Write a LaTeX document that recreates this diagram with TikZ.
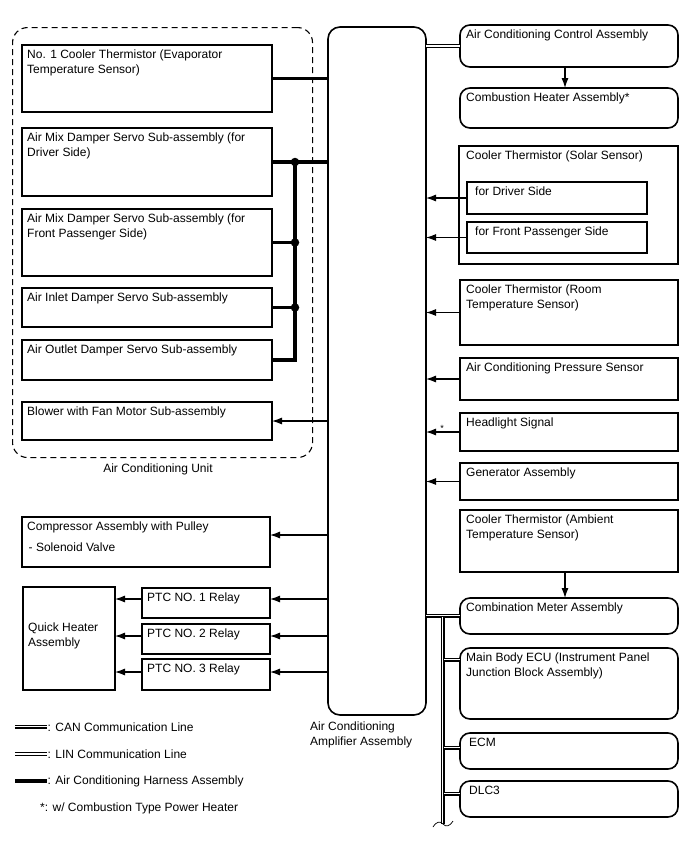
\documentclass[tikz,border=0pt]{standalone}
\usepackage{fontspec}
\setmainfont{Liberation Sans}
\usetikzlibrary{arrows.meta,calc}
\newcommand\bx[8]{%
  \node[#1, minimum width={#5-#3}, minimum height={#6-#4}] (#2) at (#3,#4) {};
  \node[txt] (#2t) at (#3+#8,#4+4.5) {#7};}
\begin{document}
\begin{tikzpicture}[x=1pt,y=-1pt,
  box/.style={draw, line width=1.6pt, anchor=north west, inner sep=0pt, outer sep=0pt},
  rbox/.style={box, rounded corners=10pt},
  txt/.style={anchor=north west, inner sep=0pt, align=left, font=\fontsize{12}{15}\selectfont},
  lbl/.style={inner sep=0pt, align=left, font=\fontsize{12}{15}\selectfont},
  arr/.style={line width=1.1pt, -{Latex[length=10pt,width=7pt]}},
  harn/.style={line width=3.8pt, line join=miter},
  dot/.style={circle, fill, inner sep=0pt, minimum size=8.5pt},
  can/.style={draw=black, line width=4pt, postaction={draw=white, line width=2.6pt}, postaction={draw=black, line width=0.6pt}},
  lin/.style={draw=black, line width=3.6pt, postaction={draw=white, line width=2.2pt}}]
\useasboundingbox (0,0) rectangle (688,852);

% Air conditioning unit (dashed)
\node[draw, line width=1.1pt, dash pattern=on 6pt off 4pt, rounded corners=15pt, anchor=north west,
      minimum width=300, minimum height=430, inner sep=0pt] (acu) at (12,27) {};
\node[lbl] (acul) at (158,469) {Air Conditioning Unit};

% Amplifier
\node[box, rounded corners=12pt, minimum width=98, minimum height=688] (amp) at (328,27) {};
\node[lbl, anchor=north west] (ampl) at (310,722) {Air Conditioning\\Amplifier Assembly};

% Left boxes
\bx{box}{cth}{22}{45}{272}{112}{No. 1 Cooler Thermistor (Evaporator\\Temperature Sensor)}{5}
\bx{box}{amd}{22}{128}{272}{196}{Air Mix Damper Servo Sub-assembly (for\\Driver Side)}{5}
\bx{box}{amf}{22}{209}{272}{276}{Air Mix Damper Servo Sub-assembly (for\\Front Passenger Side)}{5}
\bx{box}{ain}{22}{288}{272}{327}{Air Inlet Damper Servo Sub-assembly}{5}
\bx{box}{aout}{22}{340}{272}{380}{Air Outlet Damper Servo Sub-assembly}{5}
\bx{box}{blw}{22}{402}{272}{440}{Blower with Fan Motor Sub-assembly}{5}

% harness
\coordinate (hb) at (295,0);
\draw[harn] (cth.east) -- (cth.east -| amp.west);
\draw[harn] (amd.east) -- (amd.east -| amp.west);
\node[dot] (d1) at (hb |- amd.east) {};
\node[dot] (d2) at (hb |- amf.east) {};
\node[dot] (d3) at (hb |- ain.east) {};
\draw[harn] (aout.east) -| (d1.center);
\draw[harn] (amf.east) -- (d2.center);
\draw[harn] (ain.east) -- (d3.center);

\draw[arr] (amp.west |- blw.east) -- (blw.east);

% Compressor
\bx{box}{cmp}{22}{517}{270}{567}{Compressor Assembly with Pulley\\[6pt]\hspace{1.5pt}- Solenoid Valve}{5}
\draw[arr] (amp.west |- 0,535) -- (cmp.east |- 0,535);

% Quick heater + PTC relays
\node[box, minimum width=92, minimum height=103] (qh) at (23,587) {};
\node[txt] (qht) at (28,623) {Quick Heater\\Assembly};
\bx{box}{p1}{142}{588}{270}{618}{PTC NO. 1 Relay}{5}
\bx{box}{p2}{142}{624}{270}{654}{PTC NO. 2 Relay}{5}
\bx{box}{p3}{142}{659}{270}{690}{PTC NO. 3 Relay}{5}
\draw[arr] (amp.west |- 0,599) -- (p1.east |- 0,599);
\draw[arr] (amp.west |- 0,636) -- (p2.east |- 0,636);
\draw[arr] (amp.west |- 0,672) -- (p3.east |- 0,672);
\draw[arr] (p1.west |- 0,599) -- (qh.east |- 0,599);
\draw[arr] (p2.west |- 0,636) -- (qh.east |- 0,636);
\draw[arr] (p3.west |- 0,672) -- (qh.east |- 0,672);

% Right side
\coordinate (vx) at (565,0);
\bx{rbox}{acc}{460}{25}{678}{67}{Air Conditioning Control Assembly}{6}
\bx{rbox}{chh}{460}{88}{678}{128}{Combustion Heater Assembly*}{6}
\draw[lin] (amp.east |- 0,46) -- (acc.west |- 0,46);
\draw[arr] (acc.south -| vx) -- (chh.north -| vx);

\bx{box}{sol}{459}{146}{678}{264}{Cooler Thermistor (Solar Sensor)}{7}
\bx{box}{sd}{467}{182}{647}{214}{for Driver Side}{8}
\bx{box}{sp}{467}{222}{647}{253}{for Front Passenger Side}{8}
\draw[arr] (sd.west) -- (sd.west -| amp.east);
\draw[arr] (sp.west) -- (sp.west -| amp.east);

\bx{box}{room}{460}{280}{678}{345}{Cooler Thermistor (Room\\Temperature Sensor)}{6}
\bx{box}{prs}{460}{358}{678}{400}{Air Conditioning Pressure Sensor}{6}
\bx{box}{hls}{460}{413}{678}{451}{Headlight Signal}{6}
\bx{box}{gen}{460}{463}{678}{500}{Generator Assembly}{6}
\bx{box}{amb}{460}{510}{678}{572}{Cooler Thermistor (Ambient\\Temperature Sensor)}{6}
\draw[arr] (room.west) -- (room.west -| amp.east);
\draw[arr] (prs.west) -- (prs.west -| amp.east);
\draw[arr] (hls.west) -- (hls.west -| amp.east);
\draw[arr] (gen.west) -- (gen.west -| amp.east);
\node[inner sep=0pt, font=\fontsize{9}{9}\selectfont] (ast) at (442,428) {*};

\bx{rbox}{cm}{460}{598}{678}{634}{Combination Meter Assembly}{6}
\bx{rbox}{mb}{460}{648}{678}{719}{Main Body ECU (Instrument Panel\\Junction Block Assembly)}{6}
\bx{rbox}{ecm}{460}{733}{678}{769}{ECM}{9}
\bx{rbox}{dlc}{460}{781}{678}{817}{DLC3}{9}
\draw[arr] (amb.south -| vx) -- (cm.north -| vx);

% CAN bus
\coordinate (bus) at (443,0);
\draw[can] (amp.east |- cm.west) -- (cm.west)
  (bus |- cm.west) -- (bus |- 0,824)
  (bus |- 0,660) -- (mb.west |- 0,660)
  (bus |- 0,748) -- (ecm.west |- 0,748)
  (bus |- 0,794) -- (dlc.west |- 0,794);
\coordinate (wv) at (bus |- 0,824);
\draw[line width=0.7pt] ($(wv)+(-10,3)$) .. controls ($(wv)+(-6,-3)$) and ($(wv)+(-3,-3)$) .. (wv)
   .. controls ($(wv)+(3,3)$) and ($(wv)+(6,3)$) .. ($(wv)+(10,-3)$);

% Legend
\coordinate (lc1) at (15,727); \coordinate (lc2) at (47,727);
\coordinate (ll1) at (15,754); \coordinate (ll2) at (47,754);
\coordinate (lh1) at (15,781); \coordinate (lh2) at (47,781);
\draw[can] (lc1) -- (lc2);
\draw[lin] (ll1) -- (ll2);
\draw[line width=3.8pt] (lh1) -- (lh2);
\node[lbl, anchor=west] (lct) at (47.5,727) {: CAN Communication Line};
\node[lbl, anchor=west] (llt) at (47.5,754) {: LIN Communication Line};
\node[lbl, anchor=west] (lht) at (47.5,781) {: Air Conditioning Harness Assembly};
\node[lbl, anchor=west] (lst) at (40,808) {*: w/ Combustion Type Power Heater};
\end{tikzpicture}
\end{document}
